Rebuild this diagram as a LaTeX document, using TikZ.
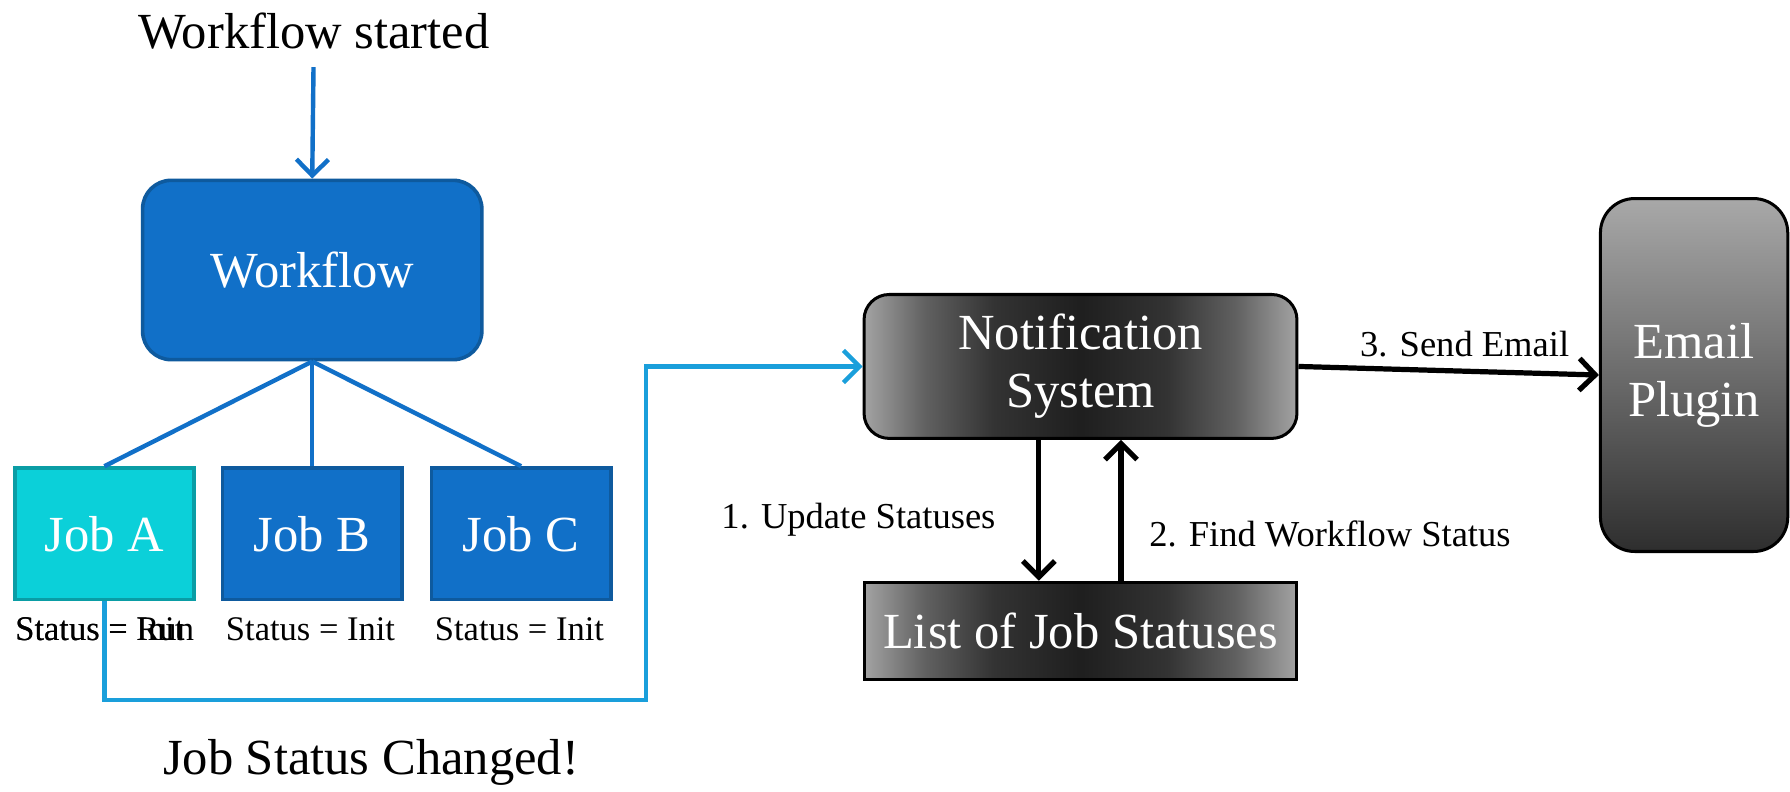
\documentclass[tikz,border=0pt]{standalone}
\usepackage{fontspec}
\setmainfont{Liberation Serif}
\usetikzlibrary{arrows.meta}

\definecolor{wfblue}{HTML}{1170C8}
\definecolor{wfedge}{HTML}{0E5A9E}
\definecolor{jobcyan}{HTML}{0BD0D9}
\definecolor{cyanedge}{HTML}{0A9DA5}
\definecolor{changeblue}{HTML}{1A9FDB}

% gray boxes: light at the sides, dark in the middle
\pgfdeclarehorizontalshading{sidegray}{100bp}{color(0bp)=(black!36); color(25bp)=(black!36);
  color(32bp)=(black!62); color(40bp)=(black!80); color(50bp)=(black!88);
  color(60bp)=(black!80); color(68bp)=(black!62); color(75bp)=(black!36); color(100bp)=(black!36)}

\begin{document}
\begin{tikzpicture}[x=0.01cm,y=-0.01cm,
  bigtext/.style={font=\fontsize{12.6}{14.4}\selectfont},
  labeltext/.style={font=\fontsize{9.1}{11}\selectfont},
  stattext/.style={font=\fontsize{8.6}{10}\selectfont},
  bluebox/.style={draw=wfedge,fill=wfblue,line width=0.9pt,text=white,bigtext,inner sep=0pt},
  graybox/.style={draw=black,line width=0.75pt,text=white,bigtext,align=center,inner sep=0pt},
  bluelink/.style={wfblue,line width=1.1pt},
  blacklink/.style={black,line width=1.3pt},
  >={Straight Barb[length=1.4mm,width=2.8mm]}]

  % white page with the reference's margins
  \useasboundingbox [fill=white] (0,0) rectangle (1568,693.6);

  % texts above and below
  \node [bigtext] (start) at (275,27) {Workflow started};
  \node [bigtext] (changed) at (325,668) {Job Status Changed!};

  % workflow box and its jobs
  \node [bluebox,rounded corners=0.25cm,minimum width=2.97cm,minimum height=1.57cm] (wf) at (273.5,236.5) {Workflow};
  \node [bluebox,draw=cyanedge,fill=jobcyan,minimum width=1.57cm,minimum height=1.15cm] (jobA) at (91.5,467.5) {Job A};
  \foreach \n/\x in {B/273.5,C/456.5} {
    \node [bluebox,minimum width=1.57cm,minimum height=1.15cm] (job\n) at (\x,467.5) {Job \n};
    \node [stattext] (st\n) at (\x-1.5,551) {Status = Init};
  }

  % job A status, old and new text on top of each other
  \node [stattext,anchor=west] (stAold) at (1,551) {Status = Init};
  \node [stattext,anchor=west] (stA) at (1,551) {Status = Run};

  % notification side
  \node [graybox,rounded corners=0.22cm,minimum width=3.79cm,minimum height=1.26cm,
         shading=sidegray] (notif) at (946.5,321) {Notification\\System};
  \node [graybox,minimum width=3.79cm,minimum height=0.85cm,
         shading=sidegray] (list) at (946.5,552.5) {List of Job Statuses};
  \node [graybox,rounded corners=0.3cm,minimum width=1.64cm,minimum height=3.09cm,
         top color=gray!68,bottom color=black!82] (email) at (1484,328.5) {Email\\Plugin};

  % workflow start and links to jobs
  \draw [bluelink,->,shorten <=1pt] (start) -- (wf.north);
  \foreach \n in {A,B,C}
    \draw [bluelink] (wf.south) -- (job\n.north);

  % status change goes to the notification system
  \coordinate (turn) at (566,613);
  \draw [changeblue,line width=1.1pt,->] (jobA.south) |- (turn) |- (notif.west);

  % notification arrows
  \draw [blacklink,->] (notif.east) -- (email.west);
  \draw [blacklink,->] ([xshift=-0.365cm]notif.south) -- ([xshift=-0.365cm]list.north);
  \draw [blacklink,->] ([xshift=0.355cm]list.north) -- ([xshift=0.355cm]notif.south);

  % arrow labels
  \node [labeltext] (sendlbl) at (1283,301) {3. Send Email};
  \node [labeltext] (updlbl) at (752,455) {1. Update Statuses};
  \node [labeltext] (findlbl) at (1165,468) {2. Find Workflow Status};

\end{tikzpicture}
\end{document}
